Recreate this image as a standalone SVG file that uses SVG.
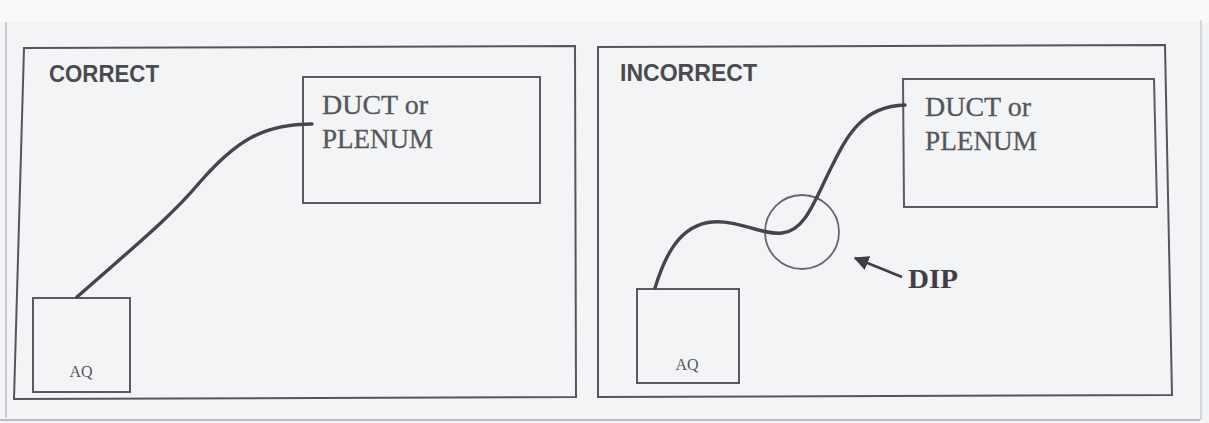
<svg xmlns="http://www.w3.org/2000/svg" width="1209" height="423" viewBox="0 0 1209 423">
  <defs>
    <style>
      .panel { fill: none; stroke: #55565c; stroke-width: 2; }
      .box { fill: none; stroke: #5a5b62; stroke-width: 2; }
      .hose { fill: none; stroke: #45464c; stroke-width: 3.4; stroke-linecap: round; }
      .title { font-family: "Liberation Sans", Arial, sans-serif; font-weight: bold; font-size: 24px; fill: #4a4b50; }
      .duct { font-family: "Liberation Serif", "Times New Roman", serif; font-size: 27px; fill: #55565b; stroke: #55565b; stroke-width: 0.3; }
      .aq { font-family: "Liberation Serif", "Times New Roman", serif; font-size: 16px; fill: #55565b; }
      .dip { font-family: "Liberation Serif", "Times New Roman", serif; font-weight: bold; font-size: 27px; fill: #3e3f44; }
    </style>
    <marker id="arrow" viewBox="0 0 10 10" refX="9" refY="5" markerWidth="6" markerHeight="6" orient="auto-start-reverse" markerUnits="strokeWidth">
      <path d="M0,0 L10,5 L0,10 z" fill="#3e3f44"/>
    </marker>
  </defs>

  <rect x="0" y="0" width="1209" height="423" fill="#f3f4f5"/>
  <rect x="0" y="0" width="1209" height="22" fill="#f9f9fa"/>
  <line x1="6" y1="22" x2="6" y2="418" stroke="#c9cacd" stroke-width="2"/>
  <line x1="0" y1="420" x2="1200" y2="420" stroke="#b9babd" stroke-width="2"/>
  <line x1="1201" y1="20" x2="1201" y2="420" stroke="#d5d8dc" stroke-width="2"/>

  <g id="panel-correct">
    <polygon class="panel" points="24,48 575,46 576,397 14,399"/>
    <text class="title" x="49" y="82" textLength="110" lengthAdjust="spacingAndGlyphs">CORRECT</text>
  </g>

  <g id="duct-left">
    <rect class="box" x="303" y="77" width="237" height="126"/>
    <text class="duct" x="322" y="114" textLength="106" lengthAdjust="spacingAndGlyphs">DUCT or</text>
    <text class="duct" x="322" y="148" textLength="111" lengthAdjust="spacingAndGlyphs">PLENUM</text>
  </g>

  <g id="aq-left">
    <rect class="box" x="33" y="298" width="97" height="94"/>
    <text class="aq" x="81" y="377" text-anchor="middle">AQ</text>
  </g>

  <g id="panel-incorrect">
    <polygon class="panel" points="598,47 1165,45 1172,395 598,397"/>
    <text class="title" x="620" y="81" textLength="137" lengthAdjust="spacingAndGlyphs">INCORRECT</text>
  </g>

  <g id="duct-right">
    <polygon class="box" points="903,79 1154,79 1157,207 904,207"/>
    <text class="duct" x="925" y="116" textLength="106" lengthAdjust="spacingAndGlyphs">DUCT or</text>
    <text class="duct" x="925" y="150" textLength="112" lengthAdjust="spacingAndGlyphs">PLENUM</text>
  </g>

  <g id="aq-right">
    <rect class="box" x="637" y="289" width="102" height="94"/>
    <text class="aq" x="687" y="370" text-anchor="middle">AQ</text>
  </g>

  <g id="dip">
    <circle cx="802" cy="232" r="37" fill="none" stroke="#66676d" stroke-width="1.8"/>
    <text class="dip" x="908" y="288" textLength="50" lengthAdjust="spacingAndGlyphs">DIP</text>
  </g>

  <g id="connectors">
    <path class="hose" d="M77,297 C130,250 170,218 200,182 C235,142 262,124 312,124"/>
    <path class="hose" d="M655,288 C665,255 680,225 712,222 C740,220 760,235 782,233 C805,231 815,200 830,170 C845,140 860,106 905,105"/>
    <line x1="902" y1="277" x2="855" y2="258" stroke="#3e3f44" stroke-width="2.5" marker-end="url(#arrow)"/>
  </g>
</svg>
